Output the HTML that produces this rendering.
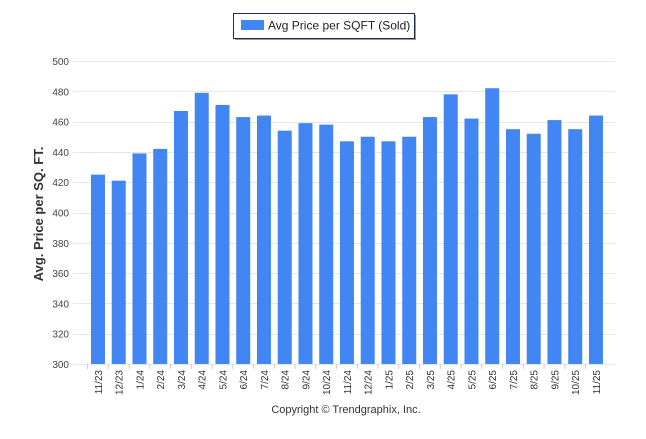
<!DOCTYPE html>
<html><head><meta charset="utf-8"><style>
body{margin:0;background:#fff;}
svg text{font-family:"Liberation Sans",sans-serif;}
</style></head><body>
<svg id="chart" width="646" height="434" xmlns="http://www.w3.org/2000/svg">
<rect x="233.5" y="13.5" width="181" height="25" fill="#fff" stroke="#1f2d4f" stroke-width="1"/>
<line x1="235" y1="39.5" x2="415" y2="39.5" stroke="#999" stroke-width="1"/>
<line x1="415.5" y1="15" x2="415.5" y2="40" stroke="#999" stroke-width="1"/>
<rect x="241" y="20" width="23" height="10" fill="#4286f4"/>
<text x="268" y="29.5" font-size="12" fill="#222">Avg Price per SQFT (Sold)</text>
<g id="grid"></g><g id="bars"></g><g id="xlabels"></g>
<text transform="translate(43,214) rotate(-90)" text-anchor="middle" font-size="13" font-weight="bold" fill="#333">Avg. Price per SQ. FT.</text>
<text x="346" y="413" text-anchor="middle" font-size="11" fill="#333">Copyright © Trendgraphix, Inc.</text>
</svg>
<script>
const categories=["11/23","12/23","1/24","2/24","3/24","4/24","5/24","6/24","7/24","8/24","9/24","10/24","11/24","12/24","1/25","2/25","3/25","4/25","5/25","6/25","7/25","8/25","9/25","10/25","11/25"];
const values=[425,421,439,442,467,479,471,463,464,454,459,458,447,450,447,450,463,478,462,482,455,452,461,455,464];
const yTicks=[300,320,340,360,380,400,420,440,460,480,500];
const ns="http://www.w3.org/2000/svg";
const y0=364,y1=61,vmin=300,vmax=500,bandStart=87.6,band=20.75,bw=14;
const y=v=>y0-(v-vmin)/(vmax-vmin)*(y0-y1);
const x=i=>bandStart+band*(i+0.5);
function mk(t,a,p){const e=document.createElementNS(ns,t);for(const k in a)e.setAttribute(k,a[k]);p.appendChild(e);return e;}
const g=document.getElementById('grid'),b=document.getElementById('bars'),xl=document.getElementById('xlabels');
yTicks.forEach(t=>{const l=mk('line',{x1:73,x2:615,y1:Math.round(y(t))+0.5,y2:Math.round(y(t))+0.5,stroke:'#e6e6e6'},g);


const tx=mk('text',{x:69,y:y(t)+4,'text-anchor':'end','font-size':'10',fill:'#444'},g);tx.textContent=t;

});
categories.forEach((c,i)=>{const r=mk('rect',{x:x(i)-bw/2,y:y(values[i]),width:bw,height:y0-y(values[i]),fill:'#4286f4'},b);


const t=mk('text',{transform:`translate(${x(i)+4},370) rotate(-90)`,'text-anchor':'end','font-size':'10',fill:'#333'},xl);t.textContent=c;


const tk=mk('line',{x1:bandStart+band*i,x2:bandStart+band*i,y1:364,y2:369,stroke:'#ccc'},xl);

});
</script>
</body></html>
